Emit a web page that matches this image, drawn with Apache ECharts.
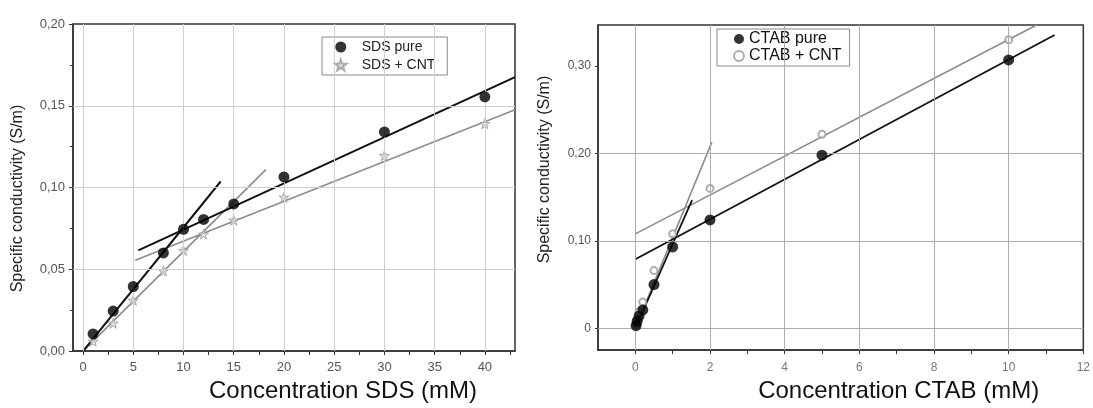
<!DOCTYPE html>
<html>
<head>
<meta charset="utf-8">
<script src="https://cdn.jsdelivr.net/npm/echarts@6/dist/echarts.min.js"></script>
<style>html,body{margin:0;padding:0;background:#fff;}#c{width:1093px;height:408px;}</style>
</head>
<body>
<div id="c"></div>
<script>
// ---- Left panel: SDS ----
const sdsX = [1, 3, 5, 8, 10, 12, 15, 20, 30, 40];
const sdsPure = [0.0105, 0.0245, 0.0395, 0.060, 0.0745, 0.0805, 0.090, 0.1065, 0.134, 0.1555];
const sdsCnt = [0.006, 0.017, 0.031, 0.049, 0.0615, 0.0715, 0.080, 0.094, 0.1195, 0.139];
const sdsPureFitLow = [[0, 0], [13.7, 0.1037]];
const sdsPureFitHigh = [[5.5, 0.0616], [43, 0.1675]];
const sdsCntFitLow = [[0, 0], [18.2, 0.111]];
const sdsCntFitHigh = [[5.2, 0.0555], [43, 0.1476]];
const sdsXLabels = [0, 5, 10, 15, 20, 25, 30, 35, 40];
const sdsXTicks = [0, 2.5, 5, 7.5, 10, 12.5, 15, 17.5, 20, 22.5, 25, 27.5, 30, 32.5, 35, 37.5, 40, 42.5];
const sdsXGrid = [0, 5, 10, 15, 20, 25, 30, 35, 40];
const sdsYGrid = [0.05, 0.10, 0.15];

// ---- Right panel: CTAB ----
const ctabX = [0.02, 0.05, 0.1, 0.2, 0.5, 1, 2, 5, 10];
const ctabPure = [0.003, 0.008, 0.014, 0.021, 0.050, 0.093, 0.124, 0.198, 0.307];
const ctabCnt = [0.004, 0.010, 0.019, 0.030, 0.066, 0.108, 0.160, 0.222, 0.330];
const ctabPureFitLow = [[0, 0], [1.52, 0.1467]];
const ctabPureFitHigh = [[0, 0.079], [11.23, 0.3356]];
const ctabCntFitLow = [[0, 0], [2.05, 0.213]];
const ctabCntFitHigh = [[0, 0.108], [10.75, 0.347]];
const ctabXLabels = [0, 2, 4, 6, 8, 10, 12];
const ctabXTicks = [0, 1, 2, 3, 4, 5, 6, 7, 8, 9, 10, 11, 12];
const ctabYLabels = [0, 0.10, 0.20, 0.30];
const ctabXGrid = [0, 2, 4, 6, 8, 10];
const ctabYGrid = [0, 0.10, 0.20];

const FONT = 'Liberation Sans, Arial, sans-serif';
const STAR = 'path://M0,-10 L2.35,-3.24 L9.51,-3.09 L3.8,1.24 L5.88,8.09 L0,4 L-5.88,8.09 L-3.8,1.24 L-9.51,-3.09 L-2.35,-3.24 Z';
const pair = (xs, ys) => xs.map((x, i) => [x, ys[i]]);
const fmtComma = v => v.toFixed(2).replace('.', ',');

function gridSeries(xi, xs, ys, color) {
  return {
    type: 'line', xAxisIndex: xi, yAxisIndex: xi, data: [], silent: true, z: 1,
    markLine: {
      silent: true, symbol: ['none', 'none'], label: { show: false },
      lineStyle: { color: color, width: 1, type: 'solid' }, animation: false,
      data: xs.map(v => ({ xAxis: v })).concat(ys.map(v => ({ yAxis: v })))
    }
  };
}
function fitLine(xi, data, color, width) {
  return { type: 'line', xAxisIndex: xi, yAxisIndex: xi, data: data, showSymbol: false, symbol: 'none',
    lineStyle: { color: color, width: width }, silent: true, z: 3 };
}
const axisLine = { show: true, onZero: false, lineStyle: { color: '#333', width: 1.5 } };

const option = {
  animation: false,
  backgroundColor: '#fff',
  grid: [
    { left: 73, top: 24, right: 578, bottom: 55, show: true, borderColor: '#333', borderWidth: 1.5, backgroundColor: 'transparent' },
    { left: 598, top: 25, right: 7, bottom: 49, show: true, borderColor: '#333', borderWidth: 1.5, backgroundColor: 'transparent' }
  ],
  legend: [
    { orient: 'vertical', left: 322, top: 37, itemGap: 4, padding: [3, 12, 3, 12],
      borderColor: '#888', borderWidth: 1, itemWidth: 22, itemHeight: 11,
      textStyle: { fontFamily: FONT, fontSize: 14, color: '#222', padding: [0, 0, 0, 5] },
      data: ['SDS pure', 'SDS + CNT'] },
    { orient: 'vertical', left: 717, top: 29, itemGap: 1, padding: [2, 8, 2, 16],
      borderColor: '#888', borderWidth: 1, itemWidth: 10, itemHeight: 10,
      textStyle: { fontFamily: FONT, fontSize: 16, color: '#111' },
      data: ['CTAB pure', 'CTAB + CNT'] }
  ],
  xAxis: [
    { type: 'value', gridIndex: 0, min: -1, max: 43, interval: 0.5,
      name: 'Concentration SDS (mM)', nameLocation: 'middle', nameGap: 27,
      nameTextStyle: { fontFamily: FONT, fontSize: 24, color: '#111', padding: [0, 0, 0, 98] },
      axisLine: axisLine,
      axisTick: { show: true, length: 4, customValues: sdsXTicks, lineStyle: { color: '#333' } },
      axisLabel: { customValues: sdsXLabels, fontFamily: FONT, fontSize: 13, color: '#555', margin: 10 },
      splitLine: { show: false } },
    { type: 'value', gridIndex: 1, min: -1, max: 12, interval: 1,
      name: 'Concentration CTAB (mM)', nameLocation: 'middle', nameGap: 28,
      nameTextStyle: { fontFamily: FONT, fontSize: 24, color: '#111', padding: [0, 0, 0, 116] },
      axisLine: axisLine,
      axisTick: { show: true, length: 4, customValues: ctabXTicks, lineStyle: { color: '#333' } },
      axisLabel: { customValues: ctabXLabels, fontFamily: FONT, fontSize: 12, color: '#777', margin: 12 },
      splitLine: { show: false } }
  ],
  yAxis: [
    { type: 'value', gridIndex: 0, min: 0, max: 0.2, interval: 0.05,
      name: 'Specific conductivity (S/m)', nameLocation: 'middle', nameGap: 47,
      nameTextStyle: { fontFamily: FONT, fontSize: 16, color: '#222', padding: [0, 22, 0, 0] },
      axisLine: axisLine,
      axisTick: { show: true, length: 4, lineStyle: { color: '#333' } },
      minorTick: { show: true, splitNumber: 2, length: 3, lineStyle: { color: '#333' } },
      axisLabel: { formatter: fmtComma, fontFamily: FONT, fontSize: 13, color: '#555', margin: 8 },
      splitLine: { show: false } },
    { type: 'value', gridIndex: 1, min: -0.025, max: 0.347, interval: 0.025,
      name: 'Specific conductivity (S/m)', nameLocation: 'middle', nameGap: 45,
      nameTextStyle: { fontFamily: FONT, fontSize: 16, color: '#222', padding: [0, 0, 0, 36] },
      axisLine: axisLine,
      axisTick: { show: true, length: 3, customValues: ctabYLabels, lineStyle: { color: '#333' } },
      axisLabel: { customValues: ctabYLabels, formatter: v => (Math.abs(v) < 1e-9 ? '0' : fmtComma(v)),
        fontFamily: FONT, fontSize: 12, color: '#555', margin: 7 },
      splitLine: { show: false } }
  ],
  series: [
    gridSeries(0, sdsXGrid, sdsYGrid, '#cfcfcf'),
    gridSeries(1, ctabXGrid, ctabYGrid, '#adadad'),
    fitLine(0, sdsCntFitLow, '#8c8c8c', 1.6),
    fitLine(0, sdsCntFitHigh, '#8c8c8c', 1.6),
    fitLine(0, sdsPureFitLow, '#111', 2),
    fitLine(0, sdsPureFitHigh, '#111', 2),
    fitLine(1, ctabCntFitLow, '#8c8c8c', 1.6),
    fitLine(1, ctabCntFitHigh, '#8c8c8c', 1.6),
    fitLine(1, ctabPureFitLow, '#111', 1.8),
    fitLine(1, ctabPureFitHigh, '#111', 1.8),
    { name: 'SDS + CNT', type: 'scatter', xAxisIndex: 0, yAxisIndex: 0, data: pair(sdsX, sdsCnt),
      symbol: STAR, symbolSize: 10, itemStyle: { color: '#d4d4d4', borderColor: '#9a9a9a', borderWidth: 1 }, z: 4 },
    { name: 'SDS pure', type: 'scatter', xAxisIndex: 0, yAxisIndex: 0, data: pair(sdsX, sdsPure),
      symbol: 'circle', symbolSize: 11, itemStyle: { color: '#000' }, z: 5 },
    { name: 'CTAB + CNT', type: 'scatter', xAxisIndex: 1, yAxisIndex: 1, data: pair(ctabX, ctabCnt),
      symbol: 'emptyCircle', symbolSize: 7, itemStyle: { color: '#999', borderColor: '#999', borderWidth: 1.2 }, z: 4 },
    { name: 'CTAB pure', type: 'scatter', xAxisIndex: 1, yAxisIndex: 1, data: pair(ctabX, ctabPure),
      symbol: 'circle', symbolSize: 11, itemStyle: { color: '#000' }, z: 5 }
  ]
};
const chart = echarts.init(document.getElementById('c'), null, { renderer: 'canvas' });
chart.setOption(option);
</script>
</body>
</html>
